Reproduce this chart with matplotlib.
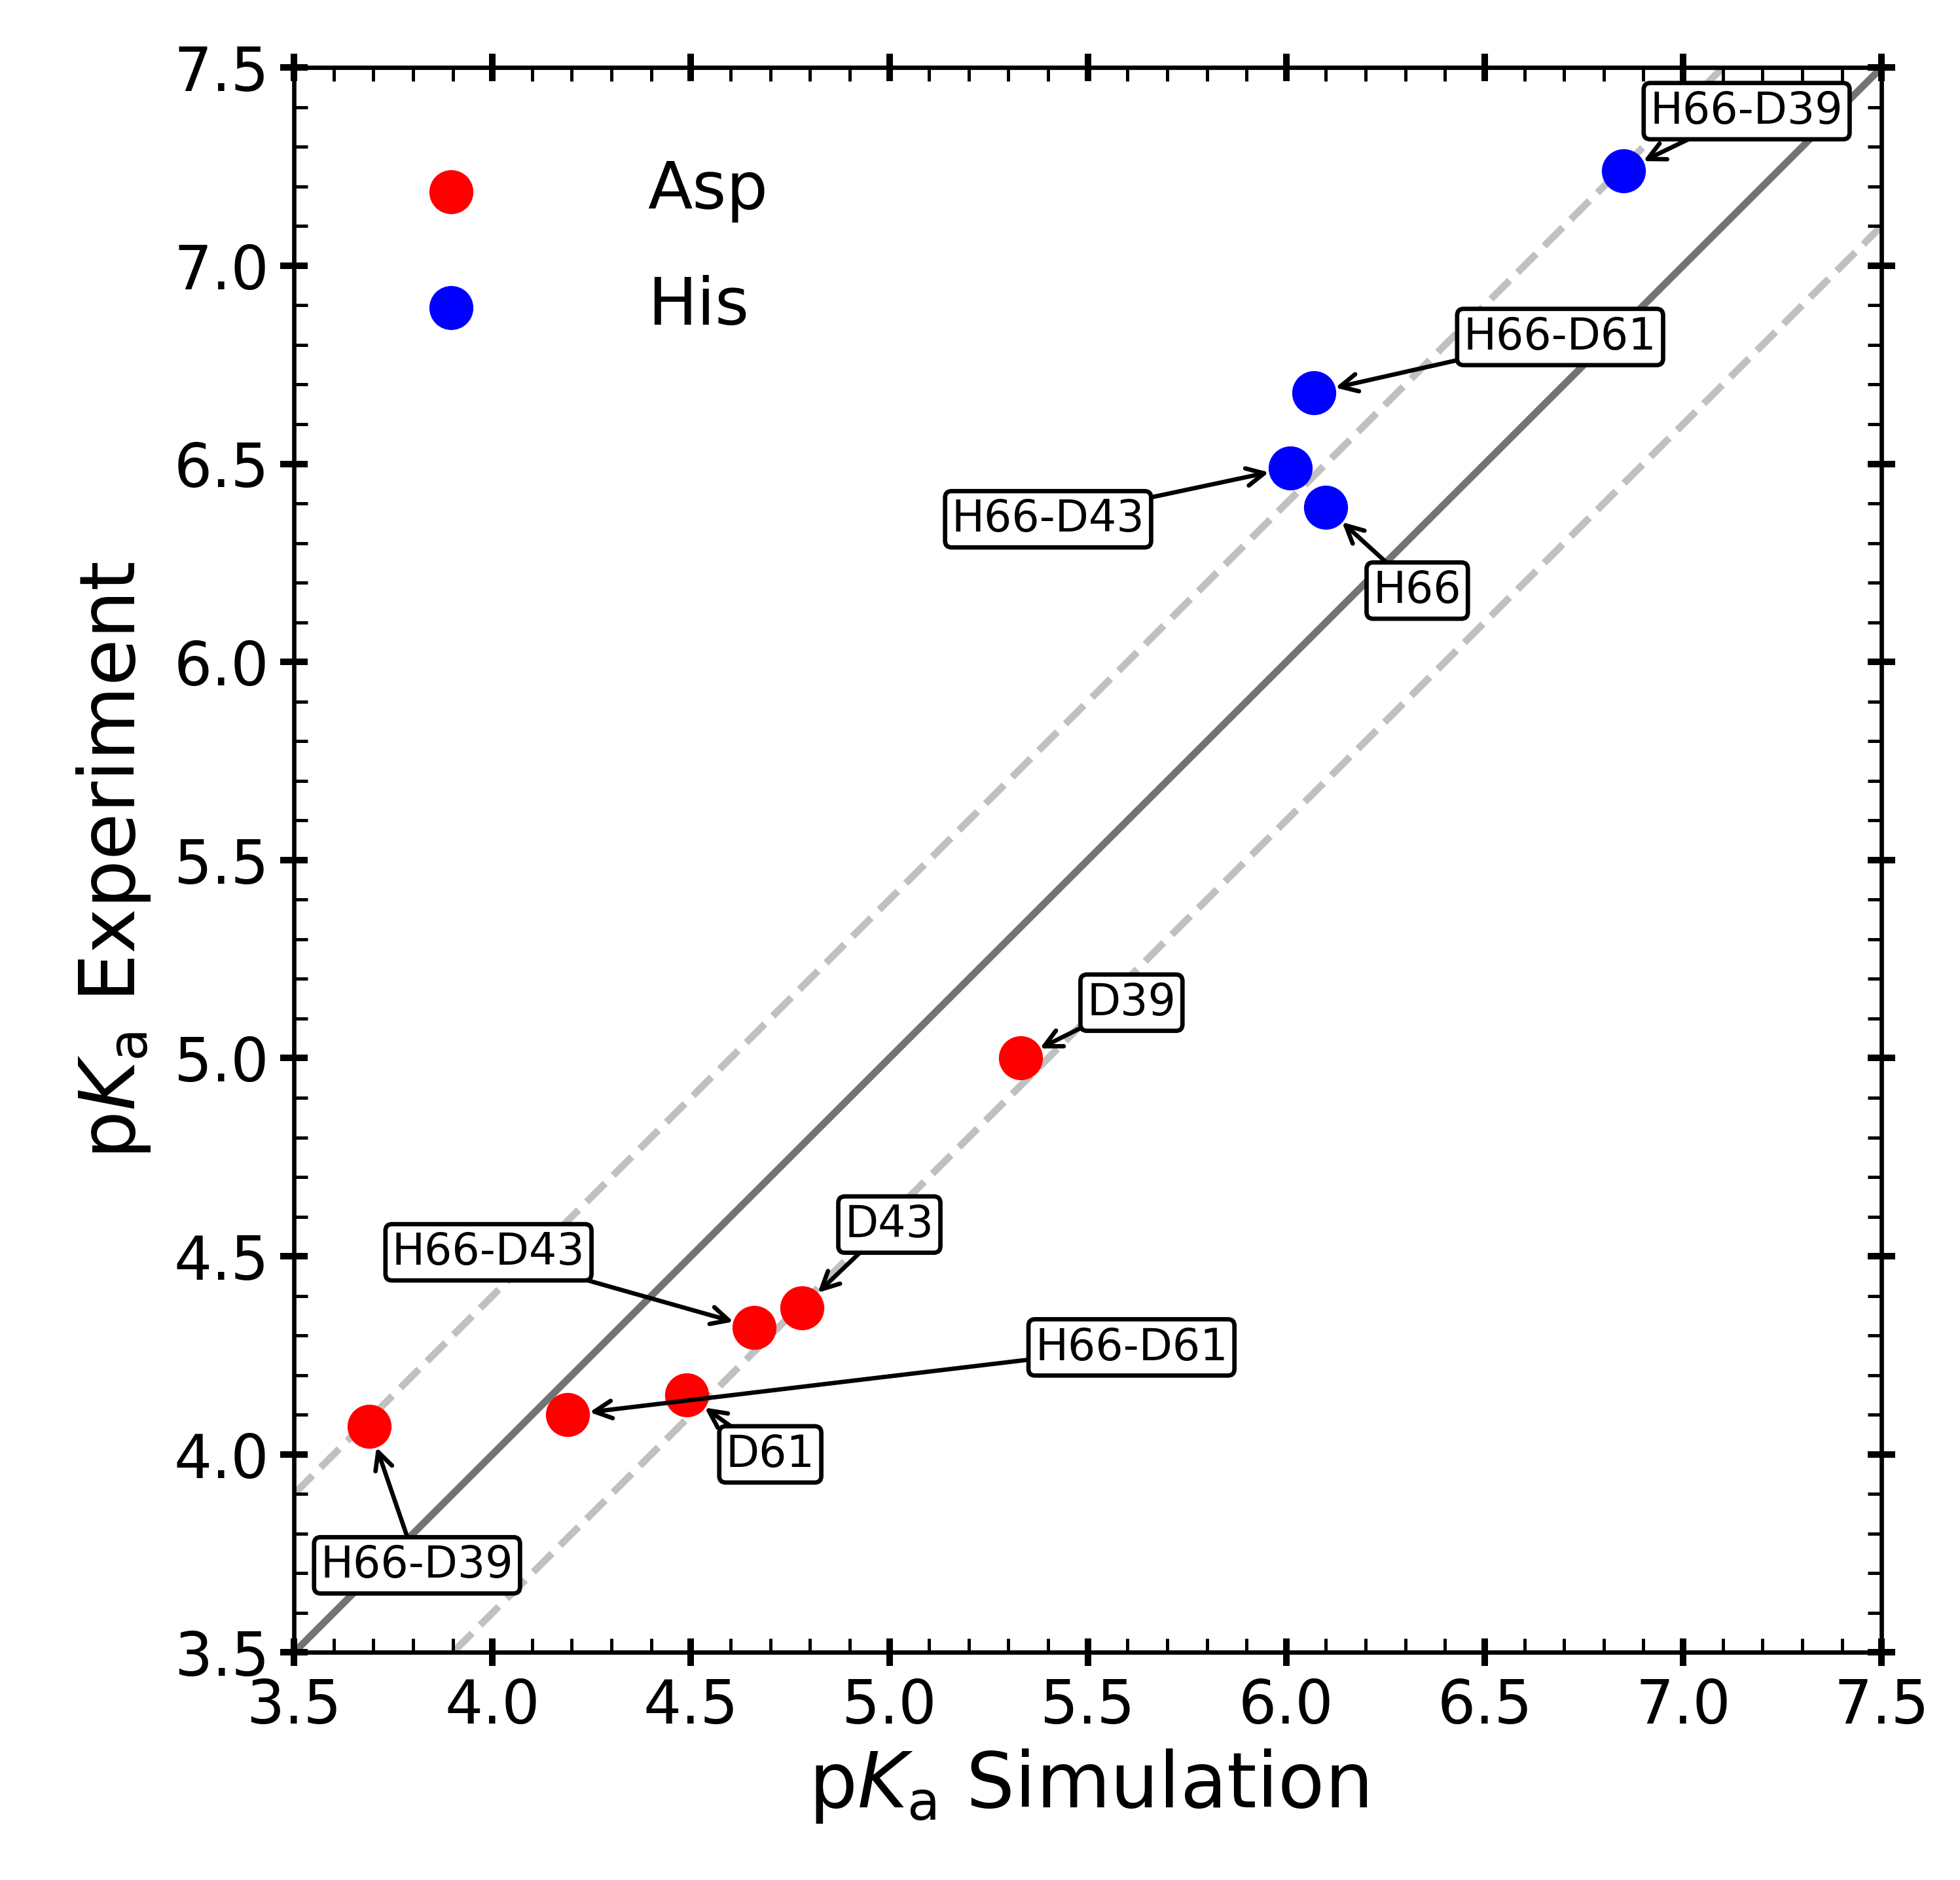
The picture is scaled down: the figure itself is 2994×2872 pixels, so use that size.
import matplotlib.pyplot as plt
import numpy as np

asp_sim = [3.69, 4.19, 4.49, 4.66, 4.78, 5.33]
asp_exp = [4.07, 4.10, 4.15, 4.32, 4.37, 5.00]
asp_names = ['H66-D39', 'H66-D61', 'D61', 'H66-D43', 'D43', 'D39']
asp_text = [(3.81, 3.72), (5.61, 4.27), (4.70, 4.00), (3.99, 4.51), (5.00, 4.58), (5.61, 5.14)]

his_sim = [6.01, 6.07, 6.10, 6.85]
his_exp = [6.49, 6.68, 6.39, 7.24]
his_names = ['H66-D43', 'H66-D61', 'H66', 'H66-D39']
his_text = [(5.40, 6.36), (6.69, 6.82), (6.33, 6.18), (7.16, 7.39)]

fig = plt.figure(figsize=(4.99, 4.787), dpi=600)
ax = fig.add_axes([0.150, 0.121, 0.810, 0.843])

x = np.array([3.5, 7.5])
ax.plot(x, x, color='0.45', lw=1.3, zorder=1)
ax.plot(x, x + 0.4, color='silver', lw=1.3, ls='--', zorder=1)
ax.plot(x, x - 0.4, color='silver', lw=1.3, ls='--', zorder=1)

ax.scatter(asp_sim, asp_exp, s=50, color='red', label='Asp', zorder=3)
ax.scatter(his_sim, his_exp, s=50, color='blue', label='His', zorder=3)

box = dict(boxstyle='round,pad=0.15', fc='white', ec='black', lw=0.8)
arrow = dict(arrowstyle='->', color='black', lw=0.8, shrinkA=0, shrinkB=4)
for name, xs, ys, t in zip(asp_names + his_names, asp_sim + his_sim,
                           asp_exp + his_exp, asp_text + his_text):
    ax.annotate(name, (xs, ys), xytext=t, ha='center', va='center',
                fontsize=8, bbox=box, arrowprops=arrow, zorder=4)

ax.set_xlim(3.5, 7.5)
ax.set_ylim(3.5, 7.5)
ax.set_xticks(np.arange(3.5, 7.51, 0.5))
ax.set_yticks(np.arange(3.5, 7.51, 0.5))
ax.set_xticks(np.arange(3.5, 7.51, 0.1), minor=True)
ax.set_yticks(np.arange(3.5, 7.51, 0.1), minor=True)
ax.tick_params(which='major', direction='inout', length=5, width=1.2, labelsize=11,
               top=True, right=True, pad=2)
ax.tick_params(which='minor', direction='in', length=2.5, width=0.6, top=True, right=True)
ax.set_xlabel('p$K_\\mathrm{a}$ Simulation', fontsize=14, labelpad=2)
ax.set_ylabel('p$K_\\mathrm{a}$ Experiment', fontsize=14, labelpad=4)
ax.legend(loc='upper left', frameon=False, fontsize=12, handletextpad=2.0,
          borderaxespad=1.0, labelspacing=0.8)

fig.savefig('out.png', dpi=600)
